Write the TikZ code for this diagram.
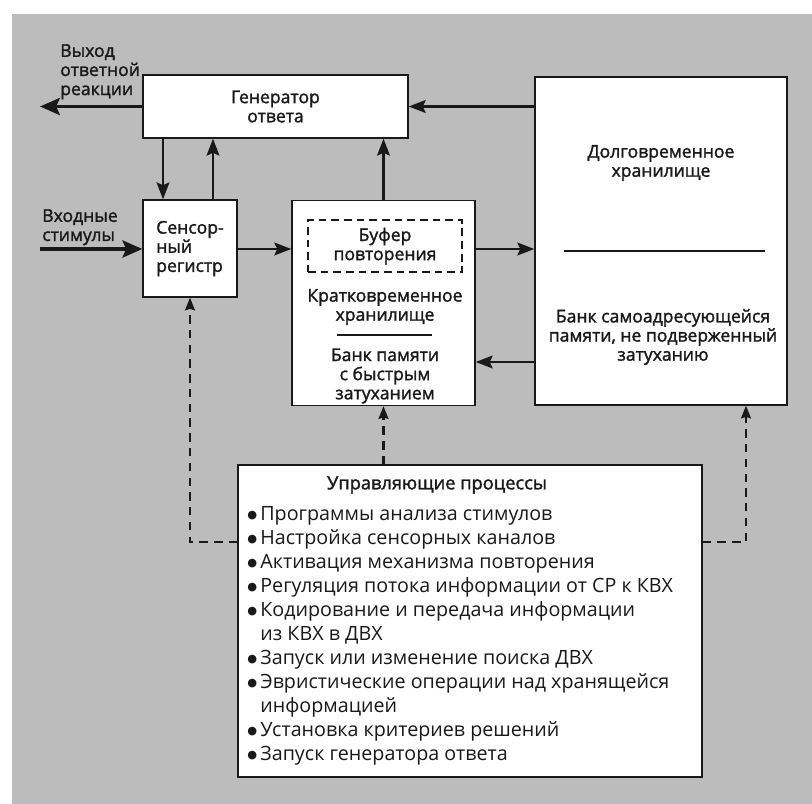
\documentclass[tikz,border=0pt]{standalone}
\usepackage{fontspec}
\setmainfont{Open Sans}
\newfontfamily\medfont{Open Sans}[FakeBold=1.6]
\newfontfamily\symfont{DejaVu Sans}
\usetikzlibrary{arrows.meta}
\definecolor{paper}{RGB}{188,188,188}
\definecolor{ink}{RGB}{25,25,25}
\newcommand\bul{\raisebox{1.3pt}{\symfont\fontsize{8}{8}\selectfont ●}\,}
\begin{document}
\begin{tikzpicture}[x=0.025cm,y=-0.025cm,
    blok/.style={draw=ink,line width=0.9pt,fill=white,inner sep=0pt},
    lbl/.style={text=ink,font=\medfont\fontsize{12.5}{13.6}\selectfont,align=center,inner sep=0pt},
    arr/.style={draw=ink,line width=2.1pt,-{Stealth[length=12pt,width=9pt,inset=2pt]}},
    bigarr/.style={arr,line width=2.8pt,-{Stealth[length=14pt,width=12pt,inset=2.5pt]}},
    dasharr/.style={draw=ink,line width=1.5pt,dash pattern=on 6pt off 4.5pt,-{Stealth[length=9pt,width=7pt,inset=1pt]}}]

    \useasboundingbox (0,0) rectangle (812,804);
    \fill[white] (0,0) rectangle (812,804);
    \fill[paper] (12,14) rectangle (812,804);

    % boxes
    \node[blok,lbl,minimum width=6.625cm,minimum height=1.575cm] (gen) at (275.5,106.5) {Генератор\\ответа};
    \node[blok,lbl,align=left,minimum width=2.35cm,minimum height=2.425cm] (sr) at (190,248.5) {Сенсор-\\ный\\регистр};
    \node[blok,minimum width=4.575cm,minimum height=5.125cm] (sts) at (383.5,303) {};
    \node[blok,minimum width=6.3cm,minimum height=8.2cm] (lts) at (661,241) {};
    \node[blok,minimum width=11.6cm,minimum height=7.8cm] (ctl) at (470,621) {};

    % inside the short-term store
    \node[draw=ink,line width=1.2pt,dash pattern=on 5.5pt off 3.5pt,minimum width=3.85cm,minimum height=1.3cm] (buf) at (385,246) {};
    \node[lbl] (buft) at (buf) {Буфер\\повторения};
    \node[lbl] (stst) at (385,307) {Кратковременное\\хранилище};
    \coordinate (stsl) at (337,335);
    \coordinate (stsr) at (432,335);
    \draw[ink,line width=0.9pt] (stsl) -- (stsr);
    \node[lbl] (stsb) at (385,376) {Банк памяти\\с быстрым\\затуханием};

    % inside the long-term store
    \node[lbl] (ltst) at (661,163) {Долговременное\\хранилище};
    \coordinate (ltsl) at (564,251);
    \coordinate (ltsr) at (765,251);
    \draw[ink,line width=0.9pt] (ltsl) -- (ltsr);
    \node[lbl] (ltsb) at (663,337) {Банк самоадресующейся\\памяти, не подверженный\\затуханию};

    % control processes
    \node[lbl,font=\medfont\fontsize{13}{14}\selectfont] (ctlt) at (437,485) {Управляющие процессы};
    \node[text=ink,font=\fontsize{14}{17.1}\selectfont,align=left,inner sep=0pt,anchor=north west] (ctll) at (247,506) {%
        \bul Программы анализа стимулов\\
        \bul Настройка сенсорных каналов\\
        \bul Активация механизма повторения\\
        \bul Регуляция потока информации от СР к КВХ\\
        \bul Кодирование и передача информации\\
        \phantom{\bul}из КВХ в ДВХ\\
        \bul Запуск или изменение поиска ДВХ\\
        \bul Эвристические операции над хранящейся\\
        \phantom{\bul}информацией\\
        \bul Установка критериев решений\\
        \bul Запуск генератора ответа};

    % outer labels
    \node[lbl,align=left,anchor=north west] (outl) at (60,44) {Выход\\ответной\\реакции};
    \node[lbl,align=left,anchor=north west] (inl) at (42,209) {Входные\\стимулы};
    \coordinate (out) at (40,106.5);
    \coordinate (in) at (40,249);

    % solid connectors
    \coordinate (down) at (163,0);
    \coordinate (up) at (213,0);
    \coordinate (back) at (0,362);
    \draw[bigarr] (gen.west) -- (out);
    \draw[bigarr] (in) -- (in -| sr.west);
    \draw[arr] (gen.south -| down) -- (sr.north -| down);
    \draw[arr] (sr.north -| up) -- (gen.south -| up);
    \draw[arr] (sts.north) -- (gen.south -| sts.north);
    \draw[arr] (lts.west |- gen.east) -- (gen.east);
    \draw[arr] (sr.east |- in) -- (sts.west |- in);
    \draw[arr] (sts.east |- in) -- (lts.west |- in);
    \draw[arr] (lts.west |- back) -- (sts.east |- back);

    % dashed control connectors
    \coordinate (dl) at (190,542);
    \coordinate (dr) at (746,542);
    \draw[dasharr] (ctl.west |- dl) -- (dl) -- (sr.south);
    \draw[dasharr] (ctl.north -| sts.south) -- (sts.south);
    \draw[dasharr] (ctl.east |- dr) -- (dr) -- (lts.south -| dr);
\end{tikzpicture}
\end{document}
